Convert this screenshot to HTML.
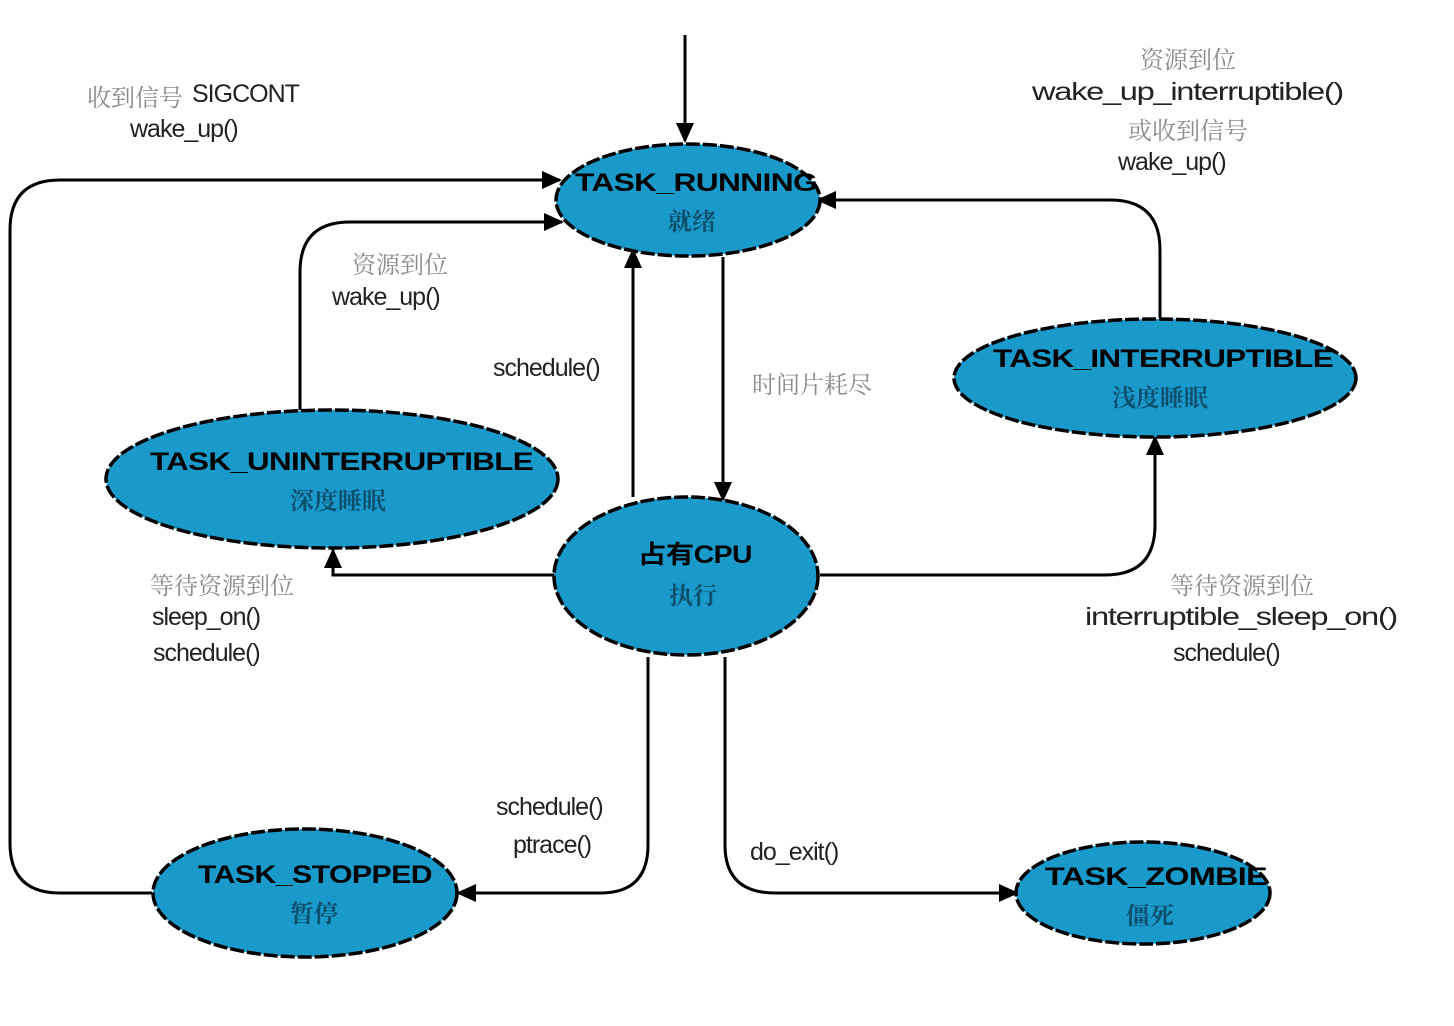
<!DOCTYPE html>
<html><head><meta charset="utf-8"><style>
html,body{margin:0;padding:0;background:#fff;}
svg{display:block;}
text{font-family:"Liberation Sans","Noto Sans CJK SC",sans-serif;}
.d{fill:#222;font-size:25px;letter-spacing:-1px}
.g{fill:#8a8a8a;font-family:"Noto Serif CJK SC","Liberation Serif",serif;font-size:24px}
.n{fill:#000;font-size:25px;font-weight:bold;letter-spacing:-0.5px}
.c{fill:#0d4f6e;font-family:"Noto Serif CJK SC",serif;font-size:24px;font-weight:bold}
.e{fill:#1a9acb;stroke:#000;stroke-width:3.5;stroke-dasharray:14 3}
.l{fill:none;stroke:#000;stroke-width:3}
</style></head><body>
<svg width="1454" height="1026" viewBox="0 0 1454 1026">
<defs><marker id="a" markerWidth="10" markerHeight="10" refX="9" refY="5" orient="auto" markerUnits="userSpaceOnUse" viewBox="0 0 10 10"><path d="M0,0 L10,5 L0,10 z" fill="#000"/></marker>
<marker id="b" markerWidth="20" markerHeight="18" refX="18" refY="9" orient="auto" markerUnits="userSpaceOnUse"><path d="M0,0 L20,9 L0,18 z" fill="#000"/></marker></defs>
<!-- connectors -->
<path class="l" d="M685,35 L685,141" marker-end="url(#b)"/>
<path class="l" d="M152,893 L60,893 Q10,893 10,843 L10,230 Q10,180 60,180 L560,180" marker-end="url(#b)"/>
<path class="l" d="M300,410 L300,272 Q300,222 350,222 L562,222" marker-end="url(#b)"/>
<path class="l" d="M633,497 L633,250" marker-end="url(#b)"/>
<path class="l" d="M723,257 L723,500" marker-end="url(#b)"/>
<path class="l" d="M1160,318 L1160,250 Q1160,200 1110,200 L818,200" marker-end="url(#b)"/>
<path class="l" d="M820,575 L1105,575 Q1155,575 1155,525 L1155,437" marker-end="url(#b)"/>
<path class="l" d="M555,575 L333,575 L333,550" marker-end="url(#b)"/>
<path class="l" d="M648,657 L648,845 Q648,893 600,893 L458,893" marker-end="url(#b)"/>
<path class="l" d="M725,657 L725,845 Q725,893 775,893 L1017,893" marker-end="url(#b)"/>
<!-- nodes -->
<ellipse class="e" cx="688" cy="200" rx="132" ry="56"/>
<ellipse class="e" cx="332" cy="479" rx="226" ry="69"/>
<ellipse class="e" cx="1155" cy="378" rx="201" ry="59"/>
<ellipse class="e" cx="686" cy="576" rx="132" ry="79"/>
<ellipse class="e" cx="305" cy="893" rx="152" ry="64"/>
<ellipse class="e" cx="1143" cy="893" rx="127" ry="51"/>
<text class="n" x="575" y="191" textLength="242" lengthAdjust="spacingAndGlyphs">TASK_RUNNING</text>
<text class="c" x="692" y="230" text-anchor="middle">就绪</text>
<text class="n" x="150" y="470" textLength="383" lengthAdjust="spacingAndGlyphs">TASK_UNINTERRUPTIBLE</text>
<text class="c" x="338" y="509" text-anchor="middle">深度睡眠</text>
<text class="n" x="993" y="367" textLength="340" lengthAdjust="spacingAndGlyphs">TASK_INTERRUPTIBLE</text>
<text class="c" x="1160" y="406" text-anchor="middle">浅度睡眠</text>
<text class="n" x="638" y="563" textLength="114" lengthAdjust="spacingAndGlyphs">占有CPU</text>
<text class="c" x="693" y="604" text-anchor="middle">执行</text>
<text class="n" x="198" y="883" textLength="234" lengthAdjust="spacingAndGlyphs">TASK_STOPPED</text>
<text class="c" x="314" y="922" text-anchor="middle">暂停</text>
<text class="n" x="1045" y="885" textLength="222" lengthAdjust="spacingAndGlyphs">TASK_ZOMBIE</text>
<text class="c" x="1150" y="924" text-anchor="middle">僵死</text>
<!-- labels -->
<text class="g" x="87" y="106">收到信号</text><text class="d" x="192" y="102">SIGCONT</text>
<text class="d" x="130" y="137">wake_up()</text>
<text class="g" x="1188" y="68" text-anchor="middle">资源到位</text>
<text class="d" x="1032" y="100" textLength="311" lengthAdjust="spacingAndGlyphs">wake_up_interruptible()</text>
<text class="g" x="1188" y="139" text-anchor="middle">或收到信号</text>
<text class="d" x="1118" y="170">wake_up()</text>
<text class="g" x="400" y="273" text-anchor="middle">资源到位</text>
<text class="d" x="332" y="305">wake_up()</text>
<text class="d" x="493" y="376">schedule()</text>
<text class="g" x="752" y="393">时间片耗尽</text>
<text class="g" x="222" y="594" text-anchor="middle">等待资源到位</text>
<text class="d" x="152" y="625">sleep_on()</text>
<text class="d" x="153" y="661">schedule()</text>
<text class="g" x="1242" y="594" text-anchor="middle">等待资源到位</text>
<text class="d" x="1085" y="625" textLength="312" lengthAdjust="spacingAndGlyphs">interruptible_sleep_on()</text>
<text class="d" x="1173" y="661">schedule()</text>
<text class="d" x="496" y="815">schedule()</text>
<text class="d" x="513" y="853">ptrace()</text>
<text class="d" x="750" y="860">do_exit()</text>
</svg>
</body></html>
